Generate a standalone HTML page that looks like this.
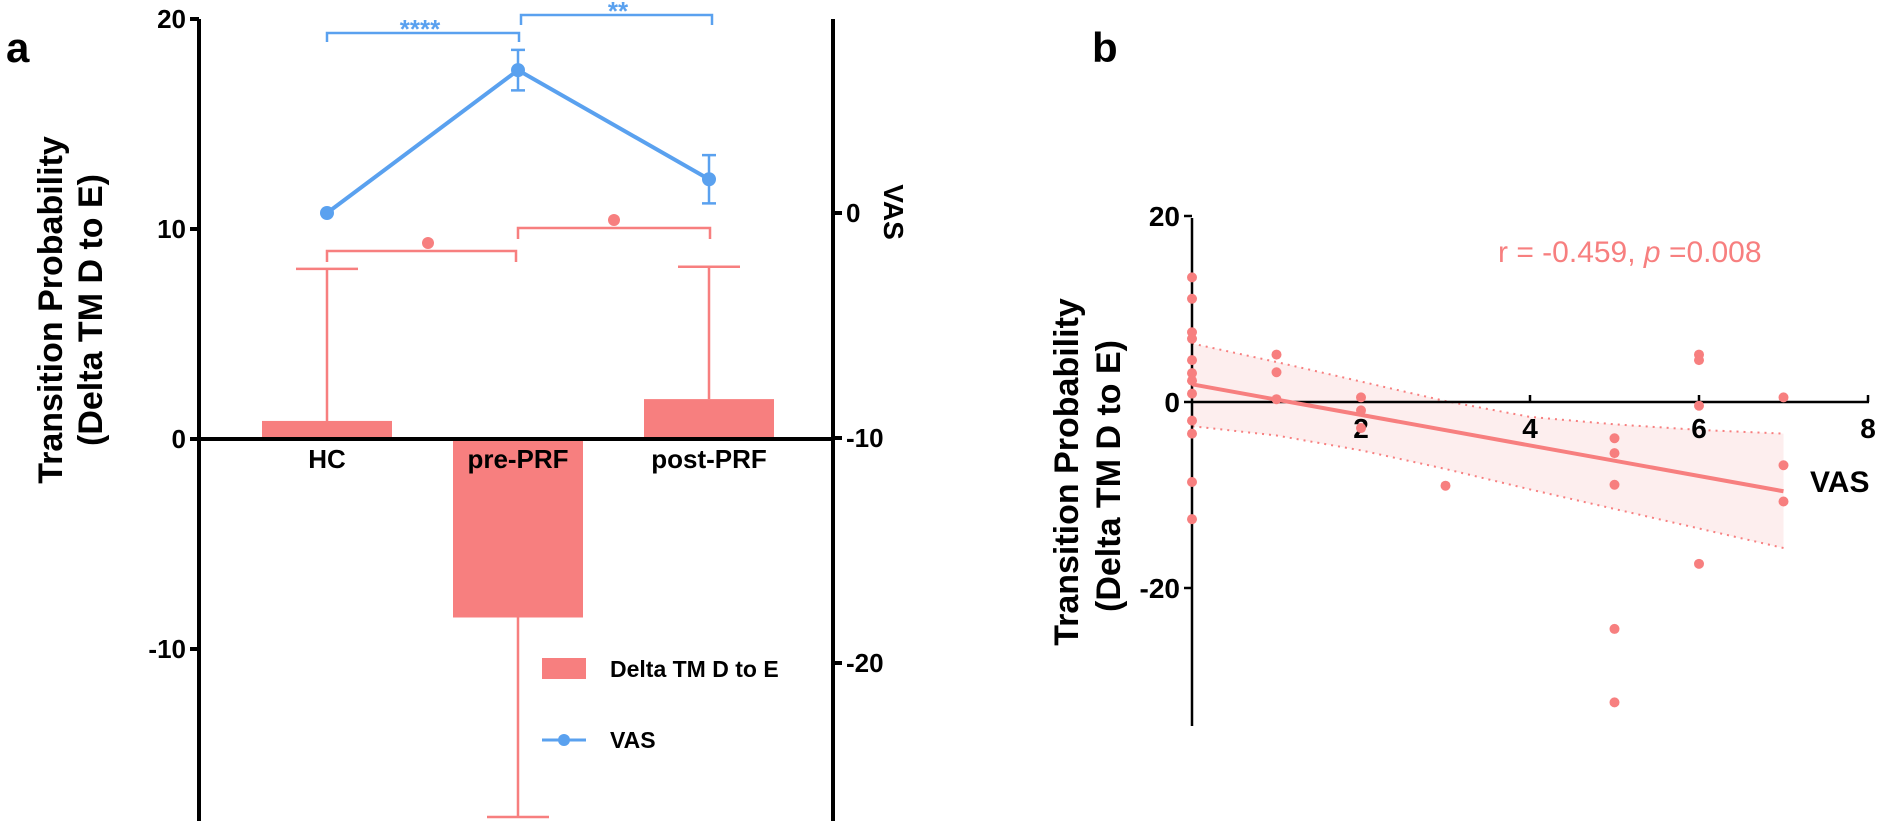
<!DOCTYPE html>
<html><head><meta charset="utf-8">
<style>
html,body{margin:0;padding:0;background:#fff;}
svg{display:block;font-family:"Liberation Sans",Arial,sans-serif;}
</style></head>
<body>
<svg id="chart" width="1880" height="821" viewBox="0 0 1880 821" xmlns="http://www.w3.org/2000/svg">
<g id="pa"></g>
<g id="pb"></g>
</svg>
<script>
// ---------- Panel A data ----------
const categories = ["HC", "pre-PRF", "post-PRF"];
const barValues = [0.86, -8.5, 1.9];
const barErrors = [8.1, -18.0, 8.2];          // error bar end values
const vasValues = [0, 6.35, 1.5];
const vasErrors = [0, 0.9, 1.07];
const leftTicks = [20, 10, 0, -10];
const rightTicks = [0, -10, -20];
// ---------- Panel B data ----------
const scatterX = [0,0,0,0,0,0,0,0,0,0,0,0, 1,1,1, 2,2,2, 3, 5,5,5,5,5, 6,6,6,6, 7,7,7];
const scatterY = [13.4,11.1,7.5,6.8,4.5,3.1,2.3,0.9,-2.0,-3.4,-8.6,-12.6, 5.1,3.2,0.3, 0.5,-0.9,-2.8, -9.0, -3.9,-5.5,-8.9,-24.4,-32.3, 5.1,4.5,-0.4,-17.4, 0.5,-6.8,-10.7];
const fitX = [0, 7];
const fitY = [1.9, -9.6];
const ciX = [0,1,2,3,4,5,6,7];
const ciUpper = [6.3,4.3,2.2,0.1,-1.6,-2.4,-3.0,-3.4];
const ciLower = [-2.6,-3.6,-5.2,-7.2,-9.4,-11.5,-13.6,-15.7];
const bYTicks = [20, 0, -20];
const bXTicks = [2, 4, 6, 8];

const NS = "http://www.w3.org/2000/svg";
const PINK = "#f77f7f", BLUE = "#5aa1ef";
function mk(parent, tag, attrs, text) {
  const e = document.createElementNS(NS, tag);
  for (const k in attrs) e.setAttribute(k, attrs[k]);
  if (text !== undefined) e.textContent = text;
  parent.appendChild(e);
  return e;
}
// ===== Panel A =====
const A = document.getElementById("pa");
const yL = v => 439 - v * 21;
const yR = v => 213 - v * 22.5;
const xC = i => 327 + i * 191;

let t;
t = mk(A, "text", {x: 6, y: 62, "font-size": 42, "font-weight": "bold"}, "a");



// bars
barValues.forEach((v, i) => {
  const y0 = yL(0), y1 = yL(v);
  const r = mk(A, "rect", {x: xC(i) - 65, y: Math.min(y0, y1), width: 130, height: Math.abs(y1 - y0), fill: PINK});
  
  
  const ey = yL(barErrors[i]);
  const eb = mk(A, "path", {d: `M${xC(i)},${y1} V${ey} M${xC(i)-31},${ey} H${xC(i)+31}`, stroke: PINK, "stroke-width": 2.5, fill: "none"});
  
  
});

// left axis
let ax = mk(A, "line", {x1: 199, y1: 19, x2: 199, y2: 821, stroke: "#000", "stroke-width": 4});


leftTicks.forEach(v => {
  const tk = mk(A, "line", {x1: 190, y1: yL(v), x2: 199, y2: yL(v), stroke: "#000", "stroke-width": 4});
  
  
  const tl = mk(A, "text", {x: 186, y: yL(v) + 9, "font-size": 26, "font-weight": "bold", "text-anchor": "end"}, String(v));
  
  
});
// right axis
ax = mk(A, "line", {x1: 833, y1: 19, x2: 833, y2: 821, stroke: "#000", "stroke-width": 4});


rightTicks.forEach(v => {
  const tk = mk(A, "line", {x1: 833, y1: yR(v), x2: 842, y2: yR(v), stroke: "#000", "stroke-width": 4});
  
  
  const tl = mk(A, "text", {x: 846, y: yR(v) + 9, "font-size": 26, "font-weight": "bold"}, String(v));
  
  
});
// x axis
ax = mk(A, "line", {x1: 199, y1: 439, x2: 833, y2: 439, stroke: "#000", "stroke-width": 4});


categories.forEach((c, i) => {
  const tl = mk(A, "text", {x: xC(i), y: 468, "font-size": 26, "font-weight": "bold", "text-anchor": "middle"}, c);
  
  
});

// axis titles
t = mk(A, "text", {transform: "translate(62,310) rotate(-90)", "font-size": 34, "font-weight": "bold", "text-anchor": "middle"}, "Transition Probability");


t = mk(A, "text", {transform: "translate(102,310) rotate(-90)", "font-size": 34, "font-weight": "bold", "text-anchor": "middle"}, "(Delta TM D to E)");


t = mk(A, "text", {transform: "translate(884,212) rotate(90)", "font-size": 28, "font-weight": "bold", "text-anchor": "middle"}, "VAS");



// VAS line
const vasPts = vasValues.map((v, i) => `${xC(i)},${yR(v)}`).join(" ");
const vl = mk(A, "polyline", {points: vasPts, stroke: BLUE, "stroke-width": 4, fill: "none"});


vasValues.forEach((v, i) => {
  if (vasErrors[i] > 0) {
    const a = yR(v + vasErrors[i]), b = yR(v - vasErrors[i]);
    const eb = mk(A, "path", {d: `M${xC(i)},${a} V${b} M${xC(i)-7},${a} H${xC(i)+7} M${xC(i)-7},${b} H${xC(i)+7}`, stroke: BLUE, "stroke-width": 2.5, fill: "none"});
    
    
  }
  const c = mk(A, "circle", {cx: xC(i), cy: yR(v), r: 7, fill: BLUE});
  
  
});

// significance brackets
let br = mk(A, "path", {d: "M327,42 V33 H519 V42", stroke: BLUE, "stroke-width": 2.5, fill: "none"});


t = mk(A, "text", {x: 420, y: 38, "font-size": 26, "font-weight": "bold", fill: BLUE, "text-anchor": "middle"}, "****");


br = mk(A, "path", {d: "M521,25 V15 H712 V25", stroke: BLUE, "stroke-width": 2.5, fill: "none"});


t = mk(A, "text", {x: 618, y: 20, "font-size": 26, "font-weight": "bold", fill: BLUE, "text-anchor": "middle"}, "**");


br = mk(A, "path", {d: "M327,262 V251 H516 V262", stroke: PINK, "stroke-width": 2.5, fill: "none"});


let d = mk(A, "circle", {cx: 428, cy: 243, r: 6, fill: PINK});


br = mk(A, "path", {d: "M518,239 V228 H710 V239", stroke: PINK, "stroke-width": 2.5, fill: "none"});


d = mk(A, "circle", {cx: 614, cy: 220, r: 6, fill: PINK});



// legend
let lg = mk(A, "rect", {x: 542, y: 658, width: 44, height: 21, fill: PINK});


t = mk(A, "text", {x: 610, y: 677, "font-size": 23, "font-weight": "bold"}, "Delta TM D to E");


lg = mk(A, "line", {x1: 542, y1: 740, x2: 586, y2: 740, stroke: BLUE, "stroke-width": 3});


d = mk(A, "circle", {cx: 564, cy: 740, r: 6, fill: BLUE});


t = mk(A, "text", {x: 610, y: 748, "font-size": 23, "font-weight": "bold"}, "VAS");



// ===== Panel B =====
const B = document.getElementById("pb");
const bx = v => 1192 + v * 84.5;
const by = v => 402 - v * 9.3;
t = mk(B, "text", {x: 1092, y: 62, "font-size": 42, "font-weight": "bold"}, "b");



// CI band
const upPts = ciX.map((x, i) => `${bx(x)},${by(ciUpper[i])}`);
const loPts = ciX.map((x, i) => `${bx(x)},${by(ciLower[i])}`).reverse();
const band = mk(B, "polygon", {points: upPts.concat(loPts).join(" "), fill: "#fdeeee"});


let cl = mk(B, "polyline", {points: upPts.join(" "), stroke: PINK, "stroke-width": 2, "stroke-dasharray": "2,5", fill: "none"});


cl = mk(B, "polyline", {points: loPts.join(" "), stroke: PINK, "stroke-width": 2, "stroke-dasharray": "2,5", fill: "none"});



// axes
ax = mk(B, "line", {x1: 1192, y1: 218, x2: 1192, y2: 726, stroke: "#000", "stroke-width": 2.5});


bYTicks.forEach(v => {
  const tk = mk(B, "line", {x1: 1184, y1: by(v), x2: 1192, y2: by(v), stroke: "#000", "stroke-width": 2.5});
  
  
  const tl = mk(B, "text", {x: 1180, y: by(v) + 10, "font-size": 28, "font-weight": "bold", "text-anchor": "end"}, String(v));
  
  
});
ax = mk(B, "line", {x1: 1192, y1: 402, x2: 1869, y2: 402, stroke: "#000", "stroke-width": 2.5});


bXTicks.forEach(v => {
  const tk = mk(B, "line", {x1: bx(v), y1: 395, x2: bx(v), y2: 402, stroke: "#000", "stroke-width": 2.5});
  
  
  const tl = mk(B, "text", {x: bx(v), y: 438, "font-size": 28, "font-weight": "bold", "text-anchor": "middle"}, String(v));
  
  
});
t = mk(B, "text", {x: 1810, y: 492, "font-size": 30, "font-weight": "bold"}, "VAS");


t = mk(B, "text", {transform: "translate(1078,472) rotate(-90)", "font-size": 34, "font-weight": "bold", "text-anchor": "middle"}, "Transition Probability");


t = mk(B, "text", {transform: "translate(1120,476) rotate(-90)", "font-size": 34, "font-weight": "bold", "text-anchor": "middle"}, "(Delta TM D to E)");



// regression line
const fl = mk(B, "line", {x1: bx(fitX[0]), y1: by(fitY[0]), x2: bx(fitX[1]), y2: by(fitY[1]), stroke: PINK, "stroke-width": 4});



// points
scatterX.forEach((x, i) => {
  const c = mk(B, "circle", {cx: bx(x), cy: by(scatterY[i]), r: 5, fill: PINK});
  
  
});

// annotation
const ann = mk(B, "text", {x: 1498, y: 262, "font-size": 30, fill: PINK});


mk(ann, "tspan", {}, "r = -0.459, ");
mk(ann, "tspan", {"font-style": "italic"}, "p");
mk(ann, "tspan", {}, " =0.008");
</script>
</body></html>
